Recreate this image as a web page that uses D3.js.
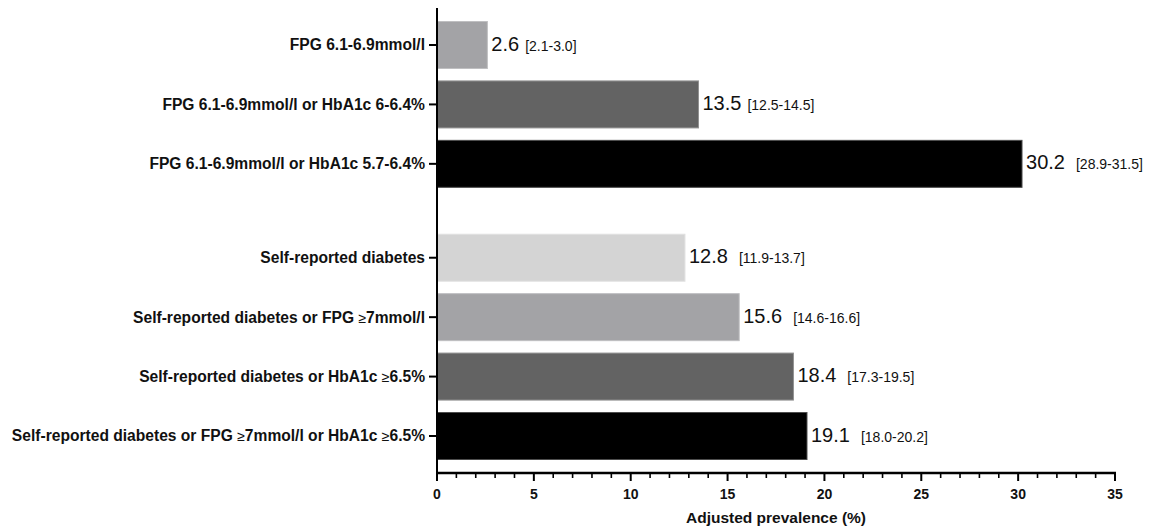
<!DOCTYPE html>
<html>
<head>
<meta charset="utf-8">
<script src="https://cdn.jsdelivr.net/npm/d3@7"></script>
<style>
  html, body { margin: 0; padding: 0; background: #fff; }
  svg { display: block; font-family: "Liberation Sans", Arial, sans-serif; }
</style>
</head>
<body>
<svg id="chart" width="1158" height="529"></svg>
<script>
// ---- data ----
const categories = [
  "FPG 6.1-6.9mmol/l",
  "FPG 6.1-6.9mmol/l or HbA1c 6-6.4%",
  "FPG 6.1-6.9mmol/l or HbA1c 5.7-6.4%",
  "Self-reported diabetes",
  "Self-reported diabetes or FPG ≥7mmol/l",
  "Self-reported diabetes or HbA1c ≥6.5%",
  "Self-reported diabetes or FPG ≥7mmol/l or HbA1c ≥6.5%"
];
const groups = [0, 0, 0, 1, 1, 1, 1];
const values = [2.6, 13.5, 30.2, 12.8, 15.6, 18.4, 19.1];
const ciLow  = ["2.1", "12.5", "28.9", "11.9", "14.6", "17.3", "18.0"];
const ciHigh = ["3.0", "14.5", "31.5", "13.7", "16.6", "19.5", "20.2"];
const colors = ["#a3a3a6", "#636363", "#000000", "#d4d4d4", "#a3a3a6", "#636363", "#000000"];
const xTicks = [0, 5, 10, 15, 20, 25, 30, 35];
const xMinorTicks = d3.range(0, 36, 1);
const xTitle = "Adjusted prevalence (%)";

// ---- layout ----
const svg = d3.select("#chart");
const x0 = 437, x1 = 1115;
const x = d3.scaleLinear().domain([0, 35]).range([x0, x1]);

const groupGap = 0.58; // extra slot spacing between the two groups
const slot = categories.map((c, i) => i + groups[i] * groupGap);
const y = d3.scaleLinear().domain([0, 6 + groupGap]).range([45, 436]);
const barH = 47;
const axisY = 473;

// bars
svg.append("g").selectAll("rect")
  .data(values)
  .join("rect")
  .attr("x", x(0))
  .attr("y", (d, i) => y(slot[i]) - barH / 2)
  .attr("width", d => x(d) - x(0))
  .attr("height", barH)
  .attr("fill", (d, i) => colors[i])
  .attr("stroke", (d, i) => d3.interpolateRgb(colors[i], "#fff")(0.3))
  .attr("stroke-width", 1);

// value labels
const lab = svg.append("g").selectAll("text")
  .data(values)
  .join("text")
  .attr("x", d => x(d) + 4)
  .attr("y", (d, i) => y(slot[i]))
  .attr("dy", "0.35em")
  .attr("fill", "#111");
lab.append("tspan")
  .attr("font-size", 20)
  .text(d => d.toFixed(1));
lab.append("tspan")
  .attr("font-size", 14)
  .attr("dx", (d, i) => groups[i] === 0 && i < 2 ? 6 : 11)
  .text((d, i) => "[" + ciLow[i] + "-" + ciHigh[i] + "]");

// y axis
const yAxisG = svg.append("g");
yAxisG.append("line")
  .attr("x1", x0).attr("x2", x0)
  .attr("y1", 8).attr("y2", axisY + 1)
  .attr("stroke", "#000").attr("stroke-width", 2);
yAxisG.selectAll("line.tick")
  .data(categories)
  .join("line")
  .attr("class", "tick")
  .attr("x1", x0 - 8).attr("x2", x0)
  .attr("y1", (d, i) => y(slot[i])).attr("y2", (d, i) => y(slot[i]))
  .attr("stroke", "#000").attr("stroke-width", 2);
const yl = yAxisG.selectAll("text")
  .data(categories)
  .join("text")
  .attr("x", x0 - 12)
  .attr("y", (d, i) => y(slot[i]))
  .attr("dy", "0.35em")
  .attr("text-anchor", "end")
  .attr("font-size", 15.6)
  .attr("font-weight", "bold")
  .attr("fill", "#111");
yl.each(function(d) {
  const t = d3.select(this);
  const parts = d.split("≥");
  parts.forEach((p, k) => {
    if (k > 0) t.append("tspan").attr("font-weight", "normal").attr("font-size", 14).text("≥");
    t.append("tspan").text(p);
  });
});

// x axis
const xAxisG = svg.append("g");
xAxisG.append("line")
  .attr("x1", x0 - 1).attr("x2", x1 + 1)
  .attr("y1", axisY).attr("y2", axisY)
  .attr("stroke", "#000").attr("stroke-width", 2.5);
xAxisG.selectAll("line.minor")
  .data(xMinorTicks.filter(v => v % 5 !== 0))
  .join("line")
  .attr("class", "minor")
  .attr("x1", d => x(d)).attr("x2", d => x(d))
  .attr("y1", axisY).attr("y2", axisY + 5)
  .attr("stroke", "#000").attr("stroke-width", 1.6);
xAxisG.selectAll("line.major")
  .data(xTicks)
  .join("line")
  .attr("class", "major")
  .attr("x1", d => x(d)).attr("x2", d => x(d))
  .attr("y1", axisY).attr("y2", axisY + 8)
  .attr("stroke", "#000").attr("stroke-width", 2);
xAxisG.selectAll("text")
  .data(xTicks)
  .join("text")
  .attr("x", d => x(d))
  .attr("y", 499)
  .attr("text-anchor", "middle")
  .attr("font-size", 14)
  .attr("font-weight", "bold")
  .attr("fill", "#111")
  .text(d => d);

svg.append("text")
  .attr("x", (x0 + x1) / 2)
  .attr("y", 523)
  .attr("text-anchor", "middle")
  .attr("font-size", 15.5)
  .attr("font-weight", "bold")
  .attr("fill", "#111")
  .text(xTitle);
</script>
</body>
</html>
